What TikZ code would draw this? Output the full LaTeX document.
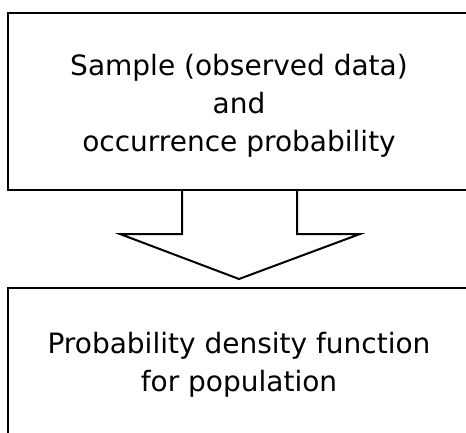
\documentclass[tikz,border=0pt]{standalone}
\usepackage{fontspec}
\setmainfont{DejaVu Sans}
\usetikzlibrary{positioning}
\tikzstyle{stage}=[draw,line width=2pt,minimum width=462pt,inner sep=0pt,align=center,font=\fontsize{28}{38}\selectfont]
\tikzstyle{block arrow}=[draw,line width=2pt,line join=miter,fill=white]

\begin{document}
\begin{tikzpicture}[x=1pt,y=1pt]
    % Page frame, the boxes run past its right and lower edge
    \useasboundingbox (0,0) rectangle (466,-433);
    \clip (0,0) rectangle (466,-433);
    % First we draw the two stages
    \node[stage,minimum height=177pt] (sample) at (239,-101.5)
        {\raisebox{-4pt}[\height][\depth]{\begin{tabular}{c}Sample (observed data)\\and\\occurrence probability\end{tabular}}};
    \node[stage,minimum height=154pt,below=96pt of sample] (density)
        {Probability density function\\for population};
    % Then the wide arrow between them
    \path[block arrow] ([xshift=-57pt]sample.south)
        -- ([xshift=-57pt,yshift=-43pt]sample.south)
        -- ([xshift=-119pt,yshift=-43pt]sample.south)
        -- ([yshift=8pt]density.north)
        -- ([xshift=121pt,yshift=-43pt]sample.south)
        -- ([xshift=58pt,yshift=-43pt]sample.south)
        -- ([xshift=58pt]sample.south);
\end{tikzpicture}
\end{document}
